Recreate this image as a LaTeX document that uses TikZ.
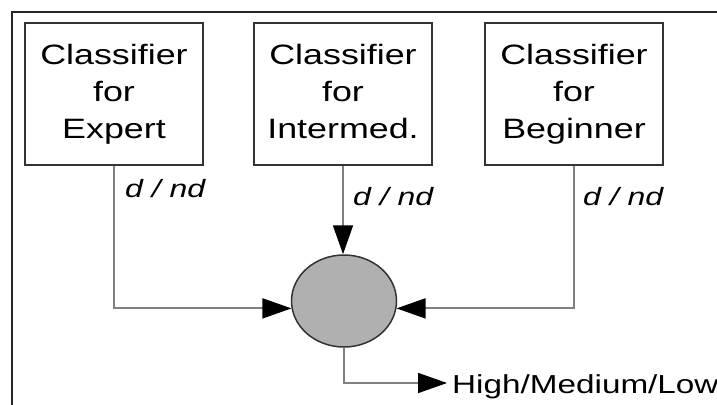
\documentclass[tikz,border=0pt]{standalone}
\usepackage{fontspec}
\setmainfont[FakeStretch=1.28]{Liberation Sans}
\usetikzlibrary{arrows.meta,shapes.geometric}
\definecolor{linegray}{HTML}{808080}
\definecolor{boxline}{HTML}{333333}
\definecolor{fillgray}{HTML}{B0B0B0}
\begin{document}
\begin{tikzpicture}[x=1pt,y=-1pt,
  clsbox/.style={draw=boxline,line width=1.8pt,minimum width=178pt,minimum height=142pt,
    inner sep=0pt,align=center,font=\fontsize{28}{37}\selectfont},
  lbl/.style={anchor=base west,inner sep=0pt,font=\fontsize{25}{30}\selectfont\itshape},
  conn/.style={draw=linegray,line width=1.8pt},
  tip/.style={-{Triangle[length=29pt,width=20pt,black]}}]
\useasboundingbox (0,0) rectangle (717,404);
\fill[white] (0,0) rectangle (717,404);
% outer frame (top and left edges visible)
\draw[line width=1.6pt,black!85] (720,12) -- (12,12) -- (12,410);
% classifier boxes
\node[clsbox] (b1) at (114,94) {Classifier\\for\\Expert\vphantom{g}};
\node[clsbox] (b2) at (343,94) {Classifier\\for\\Intermed.\vphantom{g}};
\node[clsbox] (b3) at (574,94) {Classifier\\for\\Beginner\vphantom{g}};
% combiner
\node[ellipse,draw=boxline,line width=1.5pt,fill=fillgray,minimum width=105pt,minimum height=92pt] (e) at (344,301) {};
% labels
\node[lbl] (l1) at (125,197) {d / nd};
\node[lbl] (l2) at (353,205) {d / nd};
\node[lbl] (l3) at (583,205) {d / nd};
% connectors
\draw[conn,tip] (b1.south) |- (e.188);
\draw[conn,tip] (b3.south) |- (e.352);
\draw[conn,tip] (b2.south) -- (b2.south |- e.north);
\coordinate (otip) at (447,383);
\node[anchor=base west,inner sep=0pt,font=\fontsize{26}{30}\selectfont] (out) at (452,393) {High/Medium/Low};
\draw[conn,tip] (e.south) |- (otip);
\end{tikzpicture}
\end{document}
